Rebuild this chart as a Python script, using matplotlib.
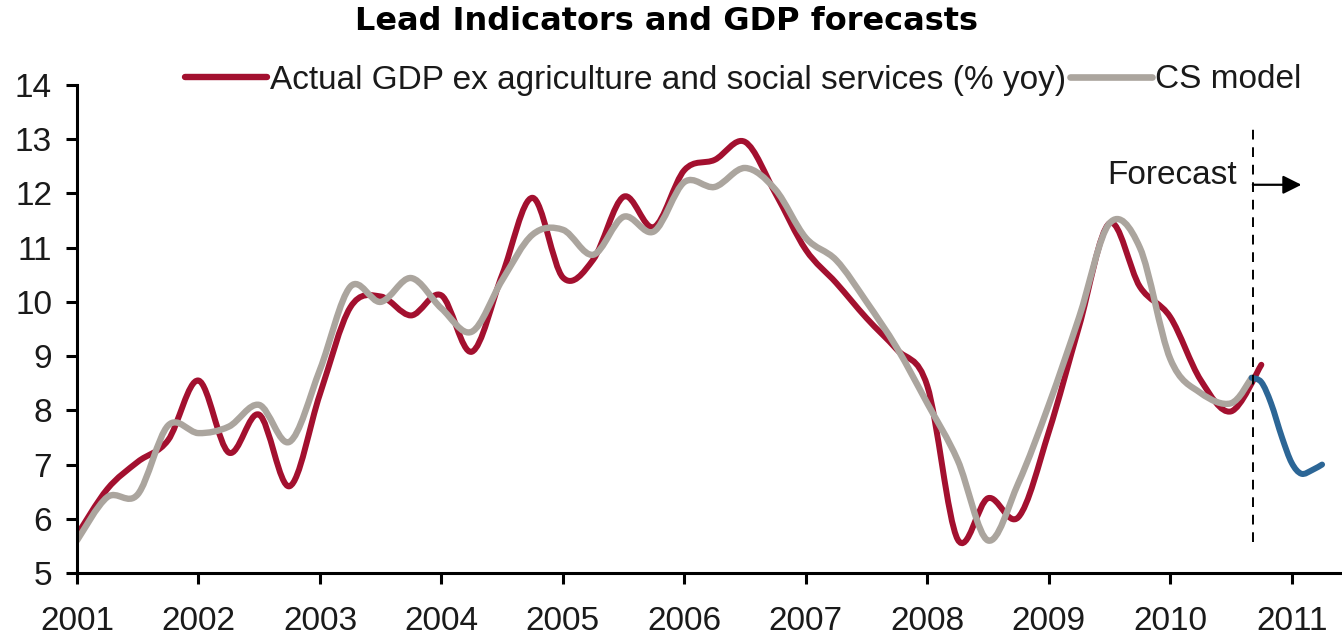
import numpy as np
import matplotlib.pyplot as plt
from matplotlib.path import Path
from matplotlib.patches import PathPatch
from matplotlib.lines import Line2D

# quarterly observations, 2001Q1 .. 2010Q4
actual_dates = 2001 + np.arange(40) / 4
actual_gdp = [5.7, 6.55, 7.05, 7.45,
              8.55, 7.22, 7.92, 6.6,
              8.3, 9.9, 10.1, 9.75,
              10.12, 9.08, 10.5, 11.92,
              10.45, 10.78, 11.94, 11.38,
              12.43, 12.62, 12.95, 12.0,
              10.96, 10.35, 9.7, 9.12,
              8.45, 5.62, 6.38, 6.03,
              7.6, 9.55, 11.45, 10.28,
              9.72, 8.56, 7.98, 8.84]

model_dates = list(2001 + np.arange(39) / 4) + [2010.67]
cs_model = [5.6, 6.4, 6.45, 7.72,
            7.58, 7.7, 8.1, 7.42,
            8.75, 10.28, 10.0, 10.44,
            9.88, 9.45, 10.4, 11.24,
            11.33, 10.87, 11.57, 11.3,
            12.21, 12.12, 12.47, 12.07,
            11.18, 10.77, 10.0, 9.15,
            8.13, 7.08, 5.6, 6.66,
            8.1, 9.72, 11.45, 11.0,
            8.95, 8.32, 8.13, 8.6]

forecast_dates = [2010.67, 2010.75, 2010.83, 2010.92, 2011.0, 2011.08, 2011.17, 2011.25]
forecast = [8.6, 8.52, 8.13, 7.5, 7.03, 6.83, 6.9, 7.0]

years = list(range(2001, 2012))
forecast_start = 2010.68

RED = '#a3102f'
GREY = '#aba59e'
BLUE = '#2c6696'
INK = '#1a1a1a'

plt.rcParams['font.family'] = ['Liberation Sans', 'DejaVu Sans']


def smooth_path(x, y, t=1 / 6):
    # Catmull-Rom style bezier through the points (like Excel's smoothed line)
    pts = np.column_stack([x, y])
    n = len(pts)
    verts = [pts[0]]
    codes = [Path.MOVETO]
    for i in range(n - 1):
        p0 = pts[max(i - 1, 0)]
        p1 = pts[i]
        p2 = pts[i + 1]
        p3 = pts[min(i + 2, n - 1)]
        verts += [p1 + (p2 - p0) * t, p2 - (p3 - p1) * t, p2]
        codes += [Path.CURVE4] * 3
    return Path(verts, codes)


def draw_smooth(ax, x, y, color, lw):
    patch = PathPatch(smooth_path(x, y), facecolor='none', edgecolor=color,
                      lw=lw, capstyle='round', joinstyle='round')
    ax.add_patch(patch)


fig = plt.figure(figsize=(13.42, 6.35), dpi=100)
ax = fig.add_axes([77 / 1342, 1 - 573 / 635, 1 - 77 / 1342, 488 / 635])

draw_smooth(ax, actual_dates, actual_gdp, RED, 4.3)
draw_smooth(ax, model_dates, cs_model, GREY, 4.6)
draw_smooth(ax, forecast_dates, forecast, BLUE, 4.3)

ax.plot([forecast_start, forecast_start], [5.57, 13.27], color='black',
        lw=1.4, ls=(0, (5, 4)))
ax.text(2010.55, 12.34, 'Forecast', ha='right', va='center', fontsize=24,
        color=INK)
ax.annotate('', xy=(2011.08, 12.16), xytext=(forecast_start, 12.16),
            arrowprops=dict(arrowstyle='-|>', mutation_scale=28, lw=1.6,
                            color='black', shrinkA=0, shrinkB=0))

ax.set_xlim(2001, 2011.414)
ax.set_ylim(5, 14)
ax.set_xticks(years)
ax.set_xticklabels([str(y) for y in years])
ax.set_yticks(range(5, 15))

for side in ['top', 'right']:
    ax.spines[side].set_visible(False)
for side in ['left', 'bottom']:
    ax.spines[side].set_linewidth(2.2)
ax.tick_params(axis='both', direction='out', length=8, width=2.2,
               labelsize=24, labelcolor=INK)
ax.tick_params(axis='x', pad=16)
ax.tick_params(axis='y', pad=10)

handles = [Line2D([], [], color=RED, lw=4.6, solid_capstyle='round'),
           Line2D([], [], color=GREY, lw=4.8, solid_capstyle='round')]
labels = ['Actual GDP ex agriculture and social services (% yoy)', 'CS model']
fig.legend(handles, labels, loc='center left', ncol=2, frameon=False,
           bbox_to_anchor=(185 / 1342, 1 - 80 / 635), fontsize=24,
           handlelength=2.45, handletextpad=0.1, columnspacing=0.12,
           borderpad=0, borderaxespad=0, labelcolor=INK)

fig.text(0.497, 1 - 22 / 635, 'Lead Indicators and GDP forecasts', ha='center',
         va='center', fontsize=23, fontweight='bold', family='DejaVu Sans')

fig.savefig('out.png', dpi=100)
